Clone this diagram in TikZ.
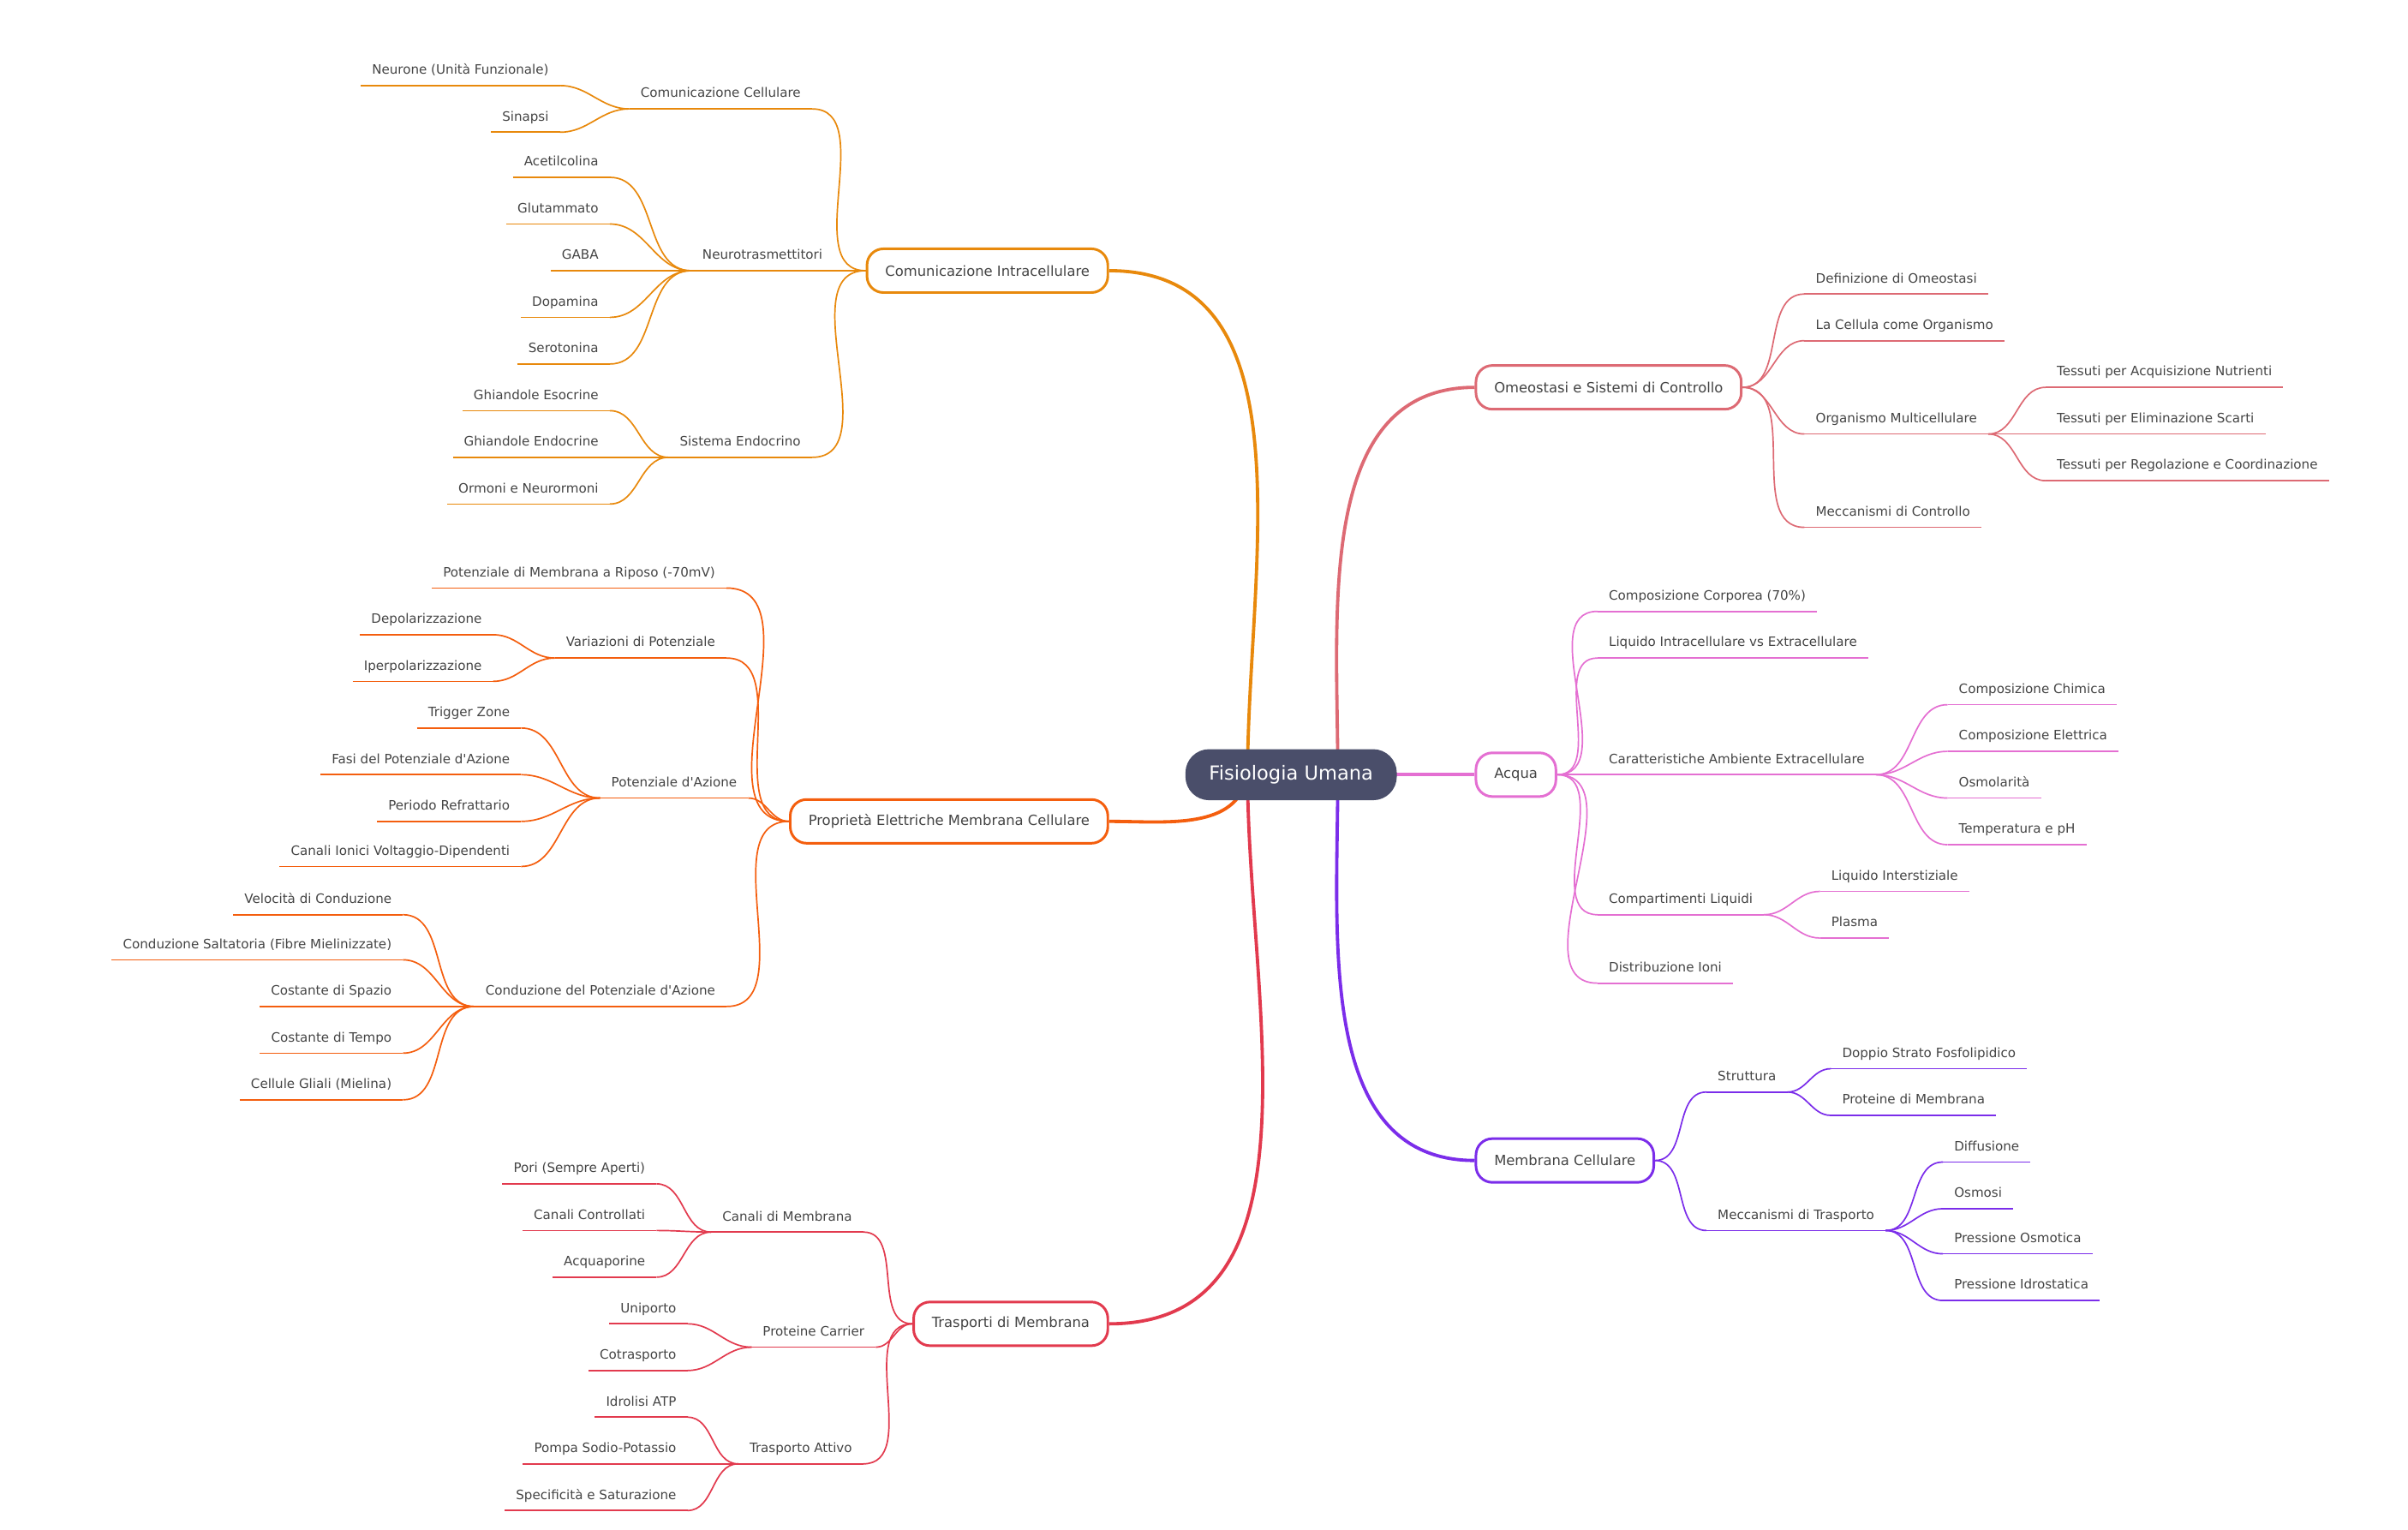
\documentclass[tikz,border=0pt]{standalone}
\usepackage{fontspec}
\setmainfont{DejaVu Sans}
\usetikzlibrary{positioning,backgrounds}
\definecolor{cRoot}{HTML}{4A4E6A}
\definecolor{cOrange}{HTML}{E8890C}
\definecolor{cOrRed}{HTML}{F45E0E}
\definecolor{cRed}{HTML}{E23A4E}
\definecolor{cSalmon}{HTML}{DD6A74}
\definecolor{cPink}{HTML}{E46FD2}
\definecolor{cPurple}{HTML}{7B2DEA}
\definecolor{cText}{HTML}{444444}
\colorlet{br}{black}
\tikzset{
  lab/.style={font=\fontsize{7.1}{9}\selectfont, text=cText, inner xsep=6pt, inner ysep=4pt,
    text height=6pt, text depth=2pt,
    append after command={(\tikzlastnode.south west) edge[draw=br, line width=0.8pt] (\tikzlastnode.south east)}},
  labR/.style={lab, anchor=south west},
  labL/.style={lab, anchor=south east},
  box/.style={draw=br, fill=white, line width=1.4pt, rounded corners=9pt, minimum height=24pt,
    inner xsep=10pt, font=\fontsize{7.7}{10}\selectfont, text=cText},
  con/.style={draw=br, line width=0.8pt},
  main/.style={line width=1.8pt},
}
\begin{document}
\begin{tikzpicture}[x=0.3mm, y=-0.3mm]
\useasboundingbox (0,0) rectangle (1548,983);
\node[fill=cRoot, text=white, rounded corners=13pt, minimum height=28pt, inner xsep=13pt,
  font=\fontsize{10.6}{13}\selectfont] (rt) at (830,498) {Fisiologia Umana};
\coordinate (rtR) at (860,498);
\coordinate (rtL) at (802,498);
% Omeostasi
\colorlet{br}{cSalmon}
\node[box, anchor=west] (omeo) at (948,249) {Omeostasi e Sistemi di Controllo};
\node[labR] (om1) at (1160,189) {Definizione di Omeostasi};
\node[labR] (om2) at (1160,219) {La Cellula come Organismo};
\node[labR] (om3) at (1160,279) {Organismo Multicellulare};
\node[labR] (om4) at (1160,339) {Meccanismi di Controllo};
\node[labR] (om31) at (1315,249) {Tessuti per Acquisizione Nutrienti};
\node[labR] (om32) at (1315,279) {Tessuti per Eliminazione Scarti};
\node[labR] (om33) at (1315,309) {Tessuti per Regolazione e Coordinazione};
\foreach \c in {om1,om2,om3,om4} \draw[con] (omeo.east) to[out=0,in=180] (\c.south west);
\foreach \c in {om31,om32,om33} \draw[con] (om3.south east) to[out=0,in=180] (\c.south west);
\begin{scope}[on background layer]
\draw[con, main] (rtR) to[out=90,in=180] (omeo.west);
\end{scope}
% Acqua
\colorlet{br}{cPink}
\node[box, anchor=west] (acq) at (948,498) {Acqua};
\node[labR] (aq1) at (1027,393) {Composizione Corporea (70\%)};
\node[labR] (aq2) at (1027,423) {Liquido Intracellulare vs Extracellulare};
\node[labR] (aq3) at (1027,498) {Caratteristiche Ambiente Extracellulare};
\node[labR] (aq4) at (1027,588) {Compartimenti Liquidi};
\node[labR] (aq5) at (1027,632) {Distribuzione Ioni};
\node[labR] (aq31) at (1252,453) {Composizione Chimica};
\node[labR] (aq32) at (1252,483) {Composizione Elettrica};
\node[labR] (aq33) at (1252,513) {Osmolarità};
\node[labR] (aq34) at (1252,543) {Temperatura e pH};
\node[labR] (aq41) at (1170,573) {Liquido Interstiziale};
\node[labR] (aq42) at (1170,603) {Plasma};
\foreach \c in {aq1,aq2,aq3,aq4,aq5} \draw[con] (acq.east) to[out=0,in=180] (\c.south west);
\foreach \c in {aq31,aq32,aq33,aq34} \draw[con] (aq3.south east) to[out=0,in=180] (\c.south west);
\foreach \c in {aq41,aq42} \draw[con] (aq4.south east) to[out=0,in=180] (\c.south west);
\begin{scope}[on background layer]
\draw[con, main] (rtR) -- (acq.west);
\end{scope}
% Membrana
\colorlet{br}{cPurple}
\node[box, anchor=west] (memb) at (948,746) {Membrana Cellulare};
\node[labR] (mb1) at (1097,702) {Struttura};
\node[labR] (mb2) at (1097,791) {Meccanismi di Trasporto};
\node[labR] (mb11) at (1177,687) {Doppio Strato Fosfolipidico};
\node[labR] (mb12) at (1177,717) {Proteine di Membrana};
\node[labR] (mb21) at (1249,747) {Diffusione};
\node[labR] (mb22) at (1249,777) {Osmosi};
\node[labR] (mb23) at (1249,806) {Pressione Osmotica};
\node[labR] (mb24) at (1249,836) {Pressione Idrostatica};
\foreach \c in {mb1,mb2} \draw[con] (memb.east) to[out=0,in=180] (\c.south west);
\foreach \c in {mb11,mb12} \draw[con] (mb1.south east) to[out=0,in=180] (\c.south west);
\foreach \c in {mb21,mb22,mb23,mb24} \draw[con] (mb2.south east) to[out=0,in=180] (\c.south west);
\begin{scope}[on background layer]
\draw[con, main] (rtR) to[out=-90,in=180] (memb.west);
\end{scope}
% Comunicazione Intracellulare
\colorlet{br}{cOrange}
\node[box, anchor=east] (com) at (713,174) {Comunicazione Intracellulare};
\node[labL] (cm1) at (522,70) {Comunicazione Cellulare};
\node[labL] (cm2) at (536,174) {Neurotrasmettitori};
\node[labL] (cm3) at (522,294) {Sistema Endocrino};
\node[labL] (cm11) at (360,55) {Neurone (Unità Funzionale)};
\node[labL] (cm12) at (360,85) {Sinapsi};
\node[labL] (cm21) at (392,114) {Acetilcolina};
\node[labL] (cm22) at (392,144) {Glutammato};
\node[labL] (cm23) at (392,174) {GABA};
\node[labL] (cm24) at (392,204) {Dopamina};
\node[labL] (cm25) at (392,234) {Serotonina};
\node[labL] (cm31) at (392,264) {Ghiandole Esocrine};
\node[labL] (cm32) at (392,294) {Ghiandole Endocrine};
\node[labL] (cm33) at (392,324) {Ormoni e Neurormoni};
\foreach \c in {cm1,cm2,cm3} \draw[con] (com.west) to[out=180,in=0] (\c.south east);
\foreach \c in {cm11,cm12} \draw[con] (cm1.south west) to[out=180,in=0] (\c.south east);
\foreach \c in {cm21,cm22,cm23,cm24,cm25} \draw[con] (cm2.south west) to[out=180,in=0] (\c.south east);
\foreach \c in {cm31,cm32,cm33} \draw[con] (cm3.south west) to[out=180,in=0] (\c.south east);
\begin{scope}[on background layer]
\draw[con, main] (rtL) to[out=90,in=0] (com.east);
\end{scope}
% Proprieta Elettriche
\colorlet{br}{cOrRed}
\node[box, anchor=east] (prop) at (713,528) {Proprietà Elettriche Membrana Cellulare};
\node[labL] (pe1) at (467,378) {Potenziale di Membrana a Riposo (-70mV)};
\node[labL] (pe2) at (467,423) {Variazioni di Potenziale};
\node[labL] (pe3) at (481,513) {Potenziale d\textquotesingle Azione};
\node[labL] (pe4) at (467,647) {Conduzione del Potenziale d\textquotesingle Azione};
\node[labL] (pe21) at (317,408) {Depolarizzazione};
\node[labL] (pe22) at (317,438) {Iperpolarizzazione};
\node[labL] (pe31) at (335,468) {Trigger Zone};
\node[labL] (pe32) at (335,498) {Fasi del Potenziale d\textquotesingle Azione};
\node[labL] (pe33) at (335,528) {Periodo Refrattario};
\node[labL] (pe34) at (335,557) {Canali Ionici Voltaggio-Dipendenti};
\node[labL] (pe41) at (259,588) {Velocità di Conduzione};
\node[labL] (pe42) at (259,617) {Conduzione Saltatoria (Fibre Mielinizzate)};
\node[labL] (pe43) at (259,647) {Costante di Spazio};
\node[labL] (pe44) at (259,677) {Costante di Tempo};
\node[labL] (pe45) at (259,707) {Cellule Gliali (Mielina)};
\foreach \c in {pe1,pe2,pe3,pe4} \draw[con] (prop.west) to[out=180,in=0] (\c.south east);
\foreach \c in {pe21,pe22} \draw[con] (pe2.south west) to[out=180,in=0] (\c.south east);
\foreach \c in {pe31,pe32,pe33,pe34} \draw[con] (pe3.south west) to[out=180,in=0] (\c.south east);
\foreach \c in {pe41,pe42,pe43,pe44,pe45} \draw[con] (pe4.south west) to[out=180,in=0] (\c.south east);
\begin{scope}[on background layer]
\draw[con, main] (rtL) to[out=-100,in=0] (prop.east);
\end{scope}
% Trasporti di Membrana
\colorlet{br}{cRed}
\node[box, anchor=east] (tra) at (713,851) {Trasporti di Membrana};
\node[labL] (tr1) at (555,792) {Canali di Membrana};
\node[labL] (tr2) at (563,866) {Proteine Carrier};
\node[labL] (tr3) at (555,941) {Trasporto Attivo};
\node[labL] (tr11) at (422,761) {Pori (Sempre Aperti)};
\node[labL] (tr12) at (422,791) {Canali Controllati};
\node[labL] (tr13) at (422,821) {Acquaporine};
\node[labL] (tr21) at (442,851) {Uniporto};
\node[labL] (tr22) at (442,881) {Cotrasporto};
\node[labL] (tr31) at (442,911) {Idrolisi ATP};
\node[labL] (tr32) at (442,941) {Pompa Sodio-Potassio};
\node[labL] (tr33) at (442,971) {Specificità e Saturazione};
\foreach \c in {tr1,tr2,tr3} \draw[con] (tra.west) to[out=180,in=0] (\c.south east);
\foreach \c in {tr11,tr12,tr13} \draw[con] (tr1.south west) to[out=180,in=0] (\c.south east);
\foreach \c in {tr21,tr22} \draw[con] (tr2.south west) to[out=180,in=0] (\c.south east);
\foreach \c in {tr31,tr32,tr33} \draw[con] (tr3.south west) to[out=180,in=0] (\c.south east);
\begin{scope}[on background layer]
\draw[con, main] (rtL) to[out=-90,in=0] (tra.east);
\end{scope}
\end{tikzpicture}
\end{document}
